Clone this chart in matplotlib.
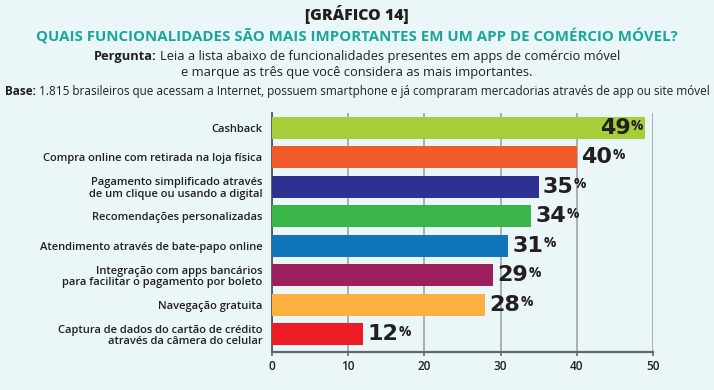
import matplotlib
matplotlib.use("Agg")
import matplotlib.pyplot as plt

categories = [
    "Cashback",
    "Compra online com retirada na loja física",
    "Pagamento simplificado através\nde um clique ou usando a digital",
    "Recomendações personalizadas",
    "Atendimento através de bate-papo online",
    "Integração com apps bancários\npara facilitar o pagamento por boleto",
    "Navegação gratuita",
    "Captura de dados do cartão de crédito\natravés da câmera do celular",
]
values = [49, 40, 35, 34, 31, 29, 28, 12]
colors = ["#A5CE39", "#F15A29", "#2E3192", "#3AB54A", "#1175BB", "#9E1F5E", "#FBB040", "#ED1C24"]
xticks = [0, 10, 20, 30, 40, 50]

BG = "#EAF6F8"
DARK = "#231F20"
FONT = "Open Sans"
NUMFONT = "DejaVu Sans"
plt.rcParams["font.family"] = [FONT, "DejaVu Sans"]

W, H = 714, 390
fig = plt.figure(figsize=(W/100, H/100), dpi=100, facecolor=BG)
renderer = fig.canvas.get_renderer()

def width_of(s, size, weight):
    t = fig.text(0, 0, s, fontsize=size, fontweight=weight)
    w = t.get_window_extent(renderer).width
    t.remove()
    return w

def fit_size(s, target, weight):
    return 10 * target / width_of(s, 10, weight)

ax = fig.add_axes([272/W, 1-352/H, (653-272)/W, (352-113)/H])
ax.set_facecolor(BG)

ypos = list(range(len(categories)))
ax.barh(ypos, values, height=0.75, color=colors, zorder=3)
ax.set_ylim(7.61, -0.51)
ax.set_xlim(0, 50)
ax.set_xticks(xticks)
ax.set_xticklabels([str(t) for t in xticks], fontsize=8.5, fontweight="semibold", color=DARK)
ax.set_yticks(ypos)
ax.set_yticklabels(categories, fontsize=8.0, fontweight="semibold", color=DARK, linespacing=1.05)
ax.tick_params(axis="y", length=0, pad=7)
ax.tick_params(axis="x", length=3, width=1.2, color="#666666", pad=3)
ax.grid(axis="x", color="#A7A9AC", linewidth=1.3, zorder=0)
for s in ["top", "right"]:
    ax.spines[s].set_visible(False)
ax.spines["left"].set_color("#555555")
ax.spines["left"].set_linewidth(1.3)
ax.spines["bottom"].set_color("#666666")
ax.spines["bottom"].set_linewidth(1.6)

for i, v in enumerate(values):
    if i == 0:
        t = ax.annotate(str(v), xy=(v, i), xytext=(-10.5, 0), textcoords="offset points",
                        ha="right", va="center", fontsize=16, fontweight="bold", family=NUMFONT,
                        color=DARK, zorder=5)
    else:
        t = ax.annotate(str(v), xy=(v, i), xytext=(3, 0), textcoords="offset points",
                        ha="left", va="center", fontsize=16, fontweight="bold", family=NUMFONT,
                        color=DARK, zorder=5)
    ax.annotate("%", xy=(1, 0.62), xycoords=t, xytext=(0.2, 0), textcoords="offset points",
                ha="left", va="center", fontsize=10, fontweight="bold", color=DARK, zorder=5)

s = "[GRÁFICO 14]"
fig.text(0.5, 1-15/H, s, ha="center", va="center", fontsize=fit_size(s, 104, "heavy"),
         fontweight="heavy", color=DARK)
s = "QUAIS FUNCIONALIDADES SÃO MAIS IMPORTANTES EM UM APP DE COMÉRCIO MÓVEL?"
fig.text(0.5, 1-36/H, s, ha="center", va="center", fontsize=fit_size(s, 640, "bold"),
         fontweight="bold", color="#1BA69C")

def bold_prefix_line(prefix, rest, y_base, target, gap=3):
    full_w = width_of(prefix, 10, "bold") + width_of(rest, 10, "normal") + gap
    size = 10 * target / full_w
    w1 = width_of(prefix, size, "bold")
    w2 = width_of(rest, size, "normal")
    x0 = (W - (w1 + w2 + gap)) / 2
    fig.text(x0 / W, y_base, prefix, ha="left", va="baseline", fontsize=size, fontweight="bold", color=DARK)
    fig.text((x0 + w1 + gap) / W, y_base, rest, ha="left", va="baseline", fontsize=size, color=DARK)
    return size

sz = bold_prefix_line("Pergunta:", "Leia a lista abaixo de funcionalidades presentes em apps de comércio móvel",
                      1-60/H, 522)
fig.text(0.5, 1-76/H, "e marque as três que você considera as mais importantes.",
         ha="center", va="baseline", fontsize=sz, color=DARK)
bold_prefix_line("Base:", "1.815 brasileiros que acessam a Internet, possuem smartphone e já compraram mercadorias através de app ou site móvel",
                 1-95/H, 702)

fig.savefig("out.png", dpi=100, facecolor=BG)
